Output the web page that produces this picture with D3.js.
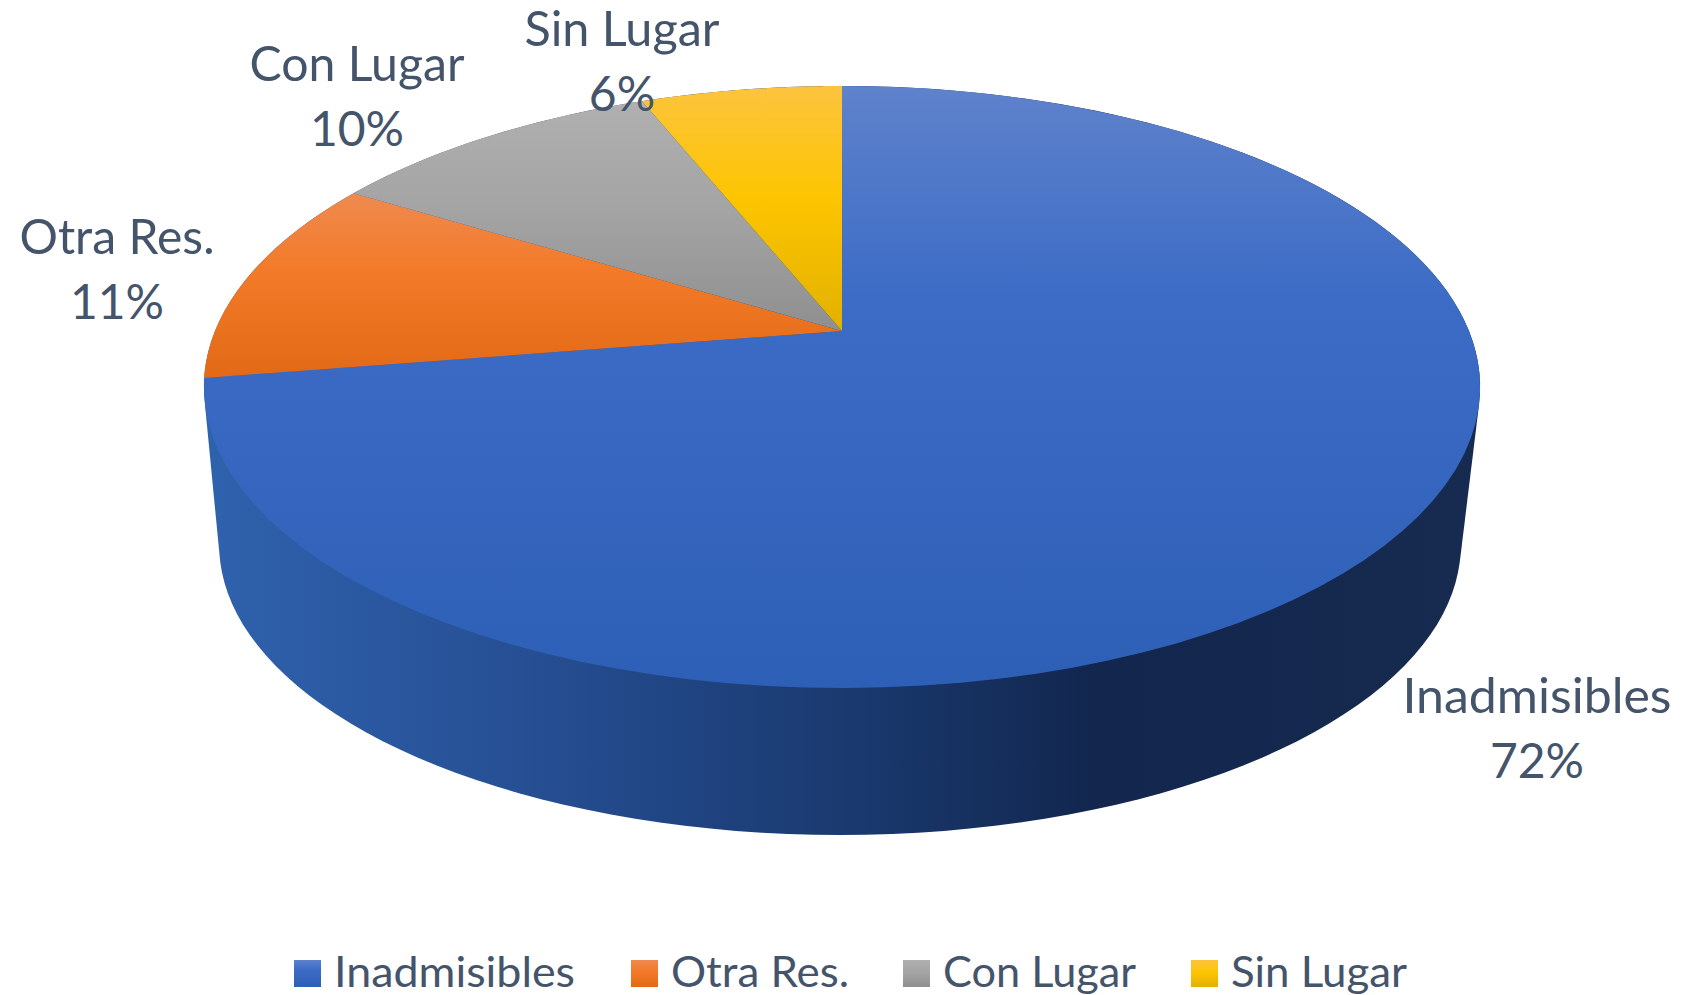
<!DOCTYPE html>
<html lang="es">
<head>
<meta charset="utf-8">
<title>Resoluciones</title>
<script src="https://d3js.org/d3.v7.min.js"></script>
<style>
    body { margin: 0; background: #fff; }
    svg { display: block; }
    text { font-family: Lato, "Open Sans", sans-serif; fill: #44546a; }
</style>
</head>
<body>
<svg width="1690" height="995"></svg>
<script>
    var categories = ["Inadmisibles", "Otra Res.", "Con Lugar", "Sin Lugar"];
    var values = [72.49, 11.2, 10.2, 6.1];
    var sliceStops = [
        ["#5f82cb", "#3c6cc6", "#2e5fb6"],
        ["#ef8a50", "#f37a28", "#e26a16"],
        ["#b0b0b0", "#a3a3a3", "#8f8f8f"],
        ["#fcc43e", "#fdc500", "#e2b100"]
    ];
    var stopOffsets = [0.35, 0.42, 0.5, 0.46];
    var wallStops = [
        [0, "#2f62ad"], [0.25, "#264f94"], [0.5, "#1a3a70"], [0.7, "#12264e"], [1, "#172b50"]
    ];

    // where each label line sits, as [centre x, first baseline, first line width]
    var labelPos = [[1537, 713, 269], [117, 254, 195], [357, 81, 215], [622, 46, 195]];
    var legendX = [294, 631, 903, 1191];
    var legendW = [241, 178, 193, 176];

    var svg = d3.select("svg");
    var defs = svg.append("defs");
    var percent = d3.format(".0%");
    var total = d3.sum(values);

    // perspective tilt of the disc: circle point -> screen point
    var topDisc = {cx: 842, cy: 331, a: 627, b: 290.6, k: 0.186};
    var bottomDisc = {cx: 840, cy: 491, a: 610, b: 280, k: 0.186};

    function project(disc, angle) {
        var x = Math.sin(angle), y = -Math.cos(angle);
        var w = 1 - disc.k * y;
        return [disc.cx + disc.a * x / w, disc.cy + disc.b * y / w];
    }

    var pie = d3.pie().sort(null);
    var slices = pie(values);

    sliceStops.forEach(function(stops, i) {
        var grad = defs.append("linearGradient")
            .attr("id", "slice" + i)
            .attr("x1", 0).attr("y1", 0).attr("x2", 0).attr("y2", 1);
        grad.selectAll("stop").data(stops).enter().append("stop")
            .attr("offset", function(d, j) { return [0, stopOffsets[i], 1][j]; })
            .attr("stop-color", function(d) { return d; });
    });

    var wallGrad = defs.append("linearGradient")
        .attr("id", "wall")
        .attr("x1", 0).attr("y1", 0).attr("x2", 1).attr("y2", 0);
    wallGrad.selectAll("stop").data(wallStops).enter().append("stop")
        .attr("offset", function(d) { return d[0]; })
        .attr("stop-color", function(d) { return d[1]; });

    // side wall = hull of both discs
    var rim = d3.range(0, 360, 2).map(function(d) { return d * Math.PI / 180; });
    var hull = d3.polygonHull(
        rim.map(function(t) { return project(topDisc, t); })
           .concat(rim.map(function(t) { return project(bottomDisc, t); }))
    );
    svg.append("path")
        .attr("d", "M" + hull.join("L") + "Z")
        .attr("fill", "url(#wall)");

    var line = d3.line();
    svg.selectAll(".slice")
        .data(slices)
        .enter().append("path")
        .attr("class", "slice")
        .attr("fill", function(d, i) { return "url(#slice" + i + ")"; })
        .attr("d", function(d) {
            var steps = d3.range(0, 1.0001, 1 / 90).map(function(s) {
                return project(topDisc, d.startAngle + s * (d.endAngle - d.startAngle));
            });
            return line([[topDisc.cx, topDisc.cy]].concat(steps)) + "Z";
        });

    var labels = svg.selectAll(".label")
        .data(categories)
        .enter().append("text")
        .attr("class", "label")
        .attr("text-anchor", "middle")
        .style("font-size", "48px");
    labels.append("tspan")
        .attr("x", function(d, i) { return labelPos[i][0]; })
        .attr("y", function(d, i) { return labelPos[i][1]; })
        .attr("textLength", function(d, i) { return labelPos[i][2]; })
        .attr("lengthAdjust", "spacingAndGlyphs")
        .text(function(d) { return d; });
    labels.append("tspan")
        .attr("x", function(d, i) { return labelPos[i][0]; })
        .attr("y", function(d, i) { return labelPos[i][1] + 65; })
        .text(function(d, i) { return percent(values[i] / total); });

    var legend = svg.selectAll(".legend")
        .data(categories)
        .enter().append("g")
        .attr("class", "legend")
        .attr("transform", function(d, i) { return "translate(" + legendX[i] + ",960)"; });
    legend.append("rect")
        .attr("width", 27)
        .attr("height", 27)
        .attr("fill", function(d, i) { return "url(#slice" + i + ")"; });
    legend.append("text")
        .attr("x", 40)
        .attr("y", 27)
        .attr("textLength", function(d, i) { return legendW[i]; })
        .attr("lengthAdjust", "spacingAndGlyphs")
        .style("font-size", "43px")
        .text(function(d) { return d; });
</script>
</body>
</html>
